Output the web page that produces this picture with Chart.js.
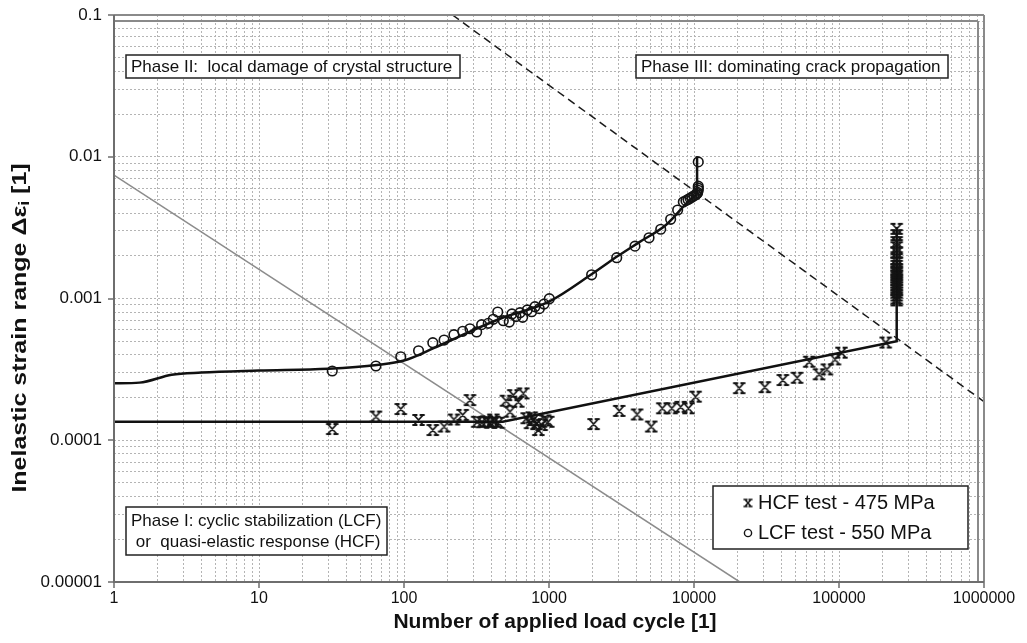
<!DOCTYPE html>
<html>
<head>
<meta charset="utf-8">
<script src="https://cdn.jsdelivr.net/npm/chart.js@4.4.1/dist/chart.umd.min.js"></script>
<style>
  html, body { margin: 0; padding: 0; background: #fff; }
  #wrap { position: relative; width: 1027px; height: 643px; }
</style>
</head>
<body>
<div id="wrap"><canvas id="c" width="1027" height="643"></canvas></div>
<script>
// ---- tick labels ----
const xTickLabels = ['1', '10', '100', '1000', '10000', '100000', '1000000'];
const yTickLabels = ['0.00001', '0.0001', '0.001', '0.01', '0.1'];

// ---- HCF test, 475 MPa (cycles / inelastic strain range) ----
const hcfCycles = [32, 64, 95, 126, 158, 189, 221, 254, 285, 320, 345, 370, 395, 413, 420, 448,
  505, 538, 567, 614, 665, 702, 740, 760, 780, 820, 844, 890, 940, 989,
  2030, 3050, 4050, 5070, 6040, 7030, 8090, 9160, 10260,
  20500, 30800, 41000, 51400, 62300, 72800, 82500, 93800, 104000, 210000,
  250000, 250000, 250000, 250000, 250000, 250000, 250000, 250000, 250000, 250000, 250000,
  250000, 250000, 250000, 250000, 250000, 250000, 250000, 250000, 250000, 250000, 250000];
const hcfStrain = [0.00012, 0.000147, 0.000166, 0.000139, 0.000118, 0.000125, 0.00014, 0.000151, 0.000192,
  0.000135, 0.000134, 0.000136, 0.000133, 0.00014, 0.000135, 0.000133,
  0.00019, 0.000159, 0.000208, 0.000187, 0.000214, 0.000143, 0.000132, 0.000145, 0.000139, 0.00013,
  0.000118, 0.000128, 0.000138, 0.000135,
  0.00013, 0.000161, 0.000152, 0.000125, 0.000168, 0.000168, 0.000172, 0.000168, 0.000203,
  0.000233, 0.000237, 0.000266, 0.000276, 0.000358, 0.000292, 0.000316, 0.000372, 0.000415, 0.000489,
  0.0031, 0.0028, 0.0025, 0.0023, 0.0021, 0.0019, 0.0018, 0.0017, 0.0016, 0.00155, 0.0015,
  0.00145, 0.0014, 0.00135, 0.0013, 0.00125, 0.0012, 0.00115, 0.0011, 0.00105, 0.001, 0.00097];

// ---- LCF test, 550 MPa ----
const lcfCycles = [32, 64, 95, 126, 158, 189, 221, 254, 285, 317, 343, 381, 413, 443, 484, 532, 555,
  592, 631, 658, 708, 759, 800, 857, 924, 1005, 1968, 2931, 3917, 4896, 5895, 6902, 7713,
  8440, 8800, 9100, 9400, 9700, 10000, 10300, 10500, 10600, 10700, 10700, 10700, 10700];
const lcfStrain = [0.000308, 0.000334, 0.000388, 0.000428, 0.000488, 0.000509, 0.000556, 0.000587,
  0.000612, 0.000581, 0.000654, 0.000668, 0.000713, 0.000803, 0.000697, 0.000682, 0.000778,
  0.000745, 0.000794, 0.000736, 0.00083, 0.000807, 0.000875, 0.000848, 0.000914, 0.000997,
  0.00147, 0.00194, 0.00234, 0.00268, 0.00308, 0.00362, 0.00421,
  0.0048, 0.0049, 0.005, 0.0051, 0.0052, 0.0053, 0.0054, 0.0055, 0.0056, 0.0058, 0.006, 0.0062, 0.0092];

// ---- model curves ----
const lcfFitCycles = [1, 1.5, 2.5, 4, 10, 30, 65, 100, 160, 270, 460, 1000, 2000, 3000, 4200, 6400, 8900, 10500];
const lcfFitStrain = [0.000252, 0.000255, 0.00029, 0.0003, 0.00031, 0.00032, 0.00034, 0.000365, 0.000446,
  0.00057, 0.00072, 0.00095, 0.0015, 0.002, 0.0025, 0.0033, 0.0047, 0.0055];
const lcfFailCycles = [10500, 10500];
const lcfFailStrain = [0.0055, 0.0101];
const hcfFitCycles = [1, 480, 250000, 250000];
const hcfFitStrain = [0.000135, 0.000135, 0.0005, 0.0032];

// ---- phase boundaries ----
const phase1Cycles = [1, 20700];
const phase1Strain = [0.00743, 0.00001];
const phase3Cycles = [216, 1000000];
const phase3Strain = [0.1, 0.000187];

const toXY = (xs, ys) => xs.map((x, i) => ({ x: x, y: ys[i] }));

// grid positions: 1..9 per decade
function decadeGrid(minExp, maxExp) {
  const out = [];
  for (let e = minExp; e < maxExp; e++) {
    for (let m = 1; m <= 9; m++) out.push(Number((m * Math.pow(10, e)).toPrecision(3)));
  }
  out.push(Math.pow(10, maxExp));
  return out;
}

// cross marker with short serifs at the arm ends
function makeCrossMarker(w, h, lw) {
  const pad = 3;
  const c = document.createElement('canvas');
  c.width = w + 2 * pad; c.height = h + 2 * pad;
  const g = c.getContext('2d');
  g.strokeStyle = '#141414';
  g.lineWidth = lw;
  g.lineCap = 'round';
  const x0 = pad, y0 = pad, x1 = w + pad, y1 = h + pad;
  const s = Math.max(2, w * 0.3);
  g.beginPath();
  g.moveTo(x0, y0); g.lineTo(x1, y1);
  g.moveTo(x1, y0); g.lineTo(x0, y1);
  g.moveTo(x0 - 1, y0); g.lineTo(x0 + s, y0);
  g.moveTo(x1 - s, y0); g.lineTo(x1 + 1, y0);
  g.moveTo(x0 - 1, y1); g.lineTo(x0 + s, y1);
  g.moveTo(x1 - s, y1); g.lineTo(x1 + 1, y1);
  g.stroke();
  return c;
}
const crossMarker = makeCrossMarker(9, 10, 1.8);
const crossMarkerSmall = makeCrossMarker(6, 7, 1.6);

const FONT = "'Liberation Sans', Arial, Helvetica, sans-serif";

function text(ctx, str, x, y, font, align, baseline) {
  ctx.font = font;
  ctx.textAlign = align || 'left';
  ctx.textBaseline = baseline || 'middle';
  ctx.fillStyle = '#111';
  ctx.fillText(str, x, y);
}

function box(ctx, x, y, w, h) {
  ctx.fillStyle = '#fff';
  ctx.fillRect(x, y, w, h);
  ctx.strokeStyle = '#222';
  ctx.lineWidth = 1.5;
  ctx.strokeRect(x, y, w, h);
}

const decorations = {
  id: 'decorations',
  afterDatasetsDraw(chart) {
    const ctx = chart.ctx;
    const a = chart.chartArea;
    const xs = chart.scales.x, ys = chart.scales.y;
    ctx.save();

    // frame: double lines at top and right
    ctx.strokeStyle = '#8a8a8a';
    ctx.lineWidth = 2;
    ctx.beginPath();
    ctx.moveTo(a.left, a.top); ctx.lineTo(a.right, a.top);
    ctx.moveTo(a.left, a.top + 6); ctx.lineTo(a.right - 6, a.top + 6);
    ctx.moveTo(a.right, a.top); ctx.lineTo(a.right, a.bottom);
    ctx.moveTo(a.right - 6, a.top + 6); ctx.lineTo(a.right - 6, a.bottom);
    ctx.stroke();

    // axis lines with outward ticks
    ctx.strokeStyle = '#6e6e6e';
    ctx.lineWidth = 2;
    ctx.beginPath();
    ctx.moveTo(a.left, a.top); ctx.lineTo(a.left, a.bottom); ctx.lineTo(a.right, a.bottom);
    ctx.stroke();
    ctx.lineWidth = 1.5;
    ctx.beginPath();
    yTickLabels.forEach(l => {
      const py = Math.round(ys.getPixelForValue(Number(l)));
      ctx.moveTo(a.left - 6, py); ctx.lineTo(a.left, py);
    });
    xTickLabels.forEach(l => {
      const px = Math.round(xs.getPixelForValue(Number(l)));
      ctx.moveTo(px, a.bottom); ctx.lineTo(px, a.bottom + 6);
    });
    ctx.stroke();

    // tick labels
    yTickLabels.forEach(l => {
      text(ctx, l, a.left - 12, ys.getPixelForValue(Number(l)), '17px ' + FONT, 'right', 'middle');
    });
    xTickLabels.forEach(l => {
      text(ctx, l, xs.getPixelForValue(Number(l)), a.bottom + 17, '16px ' + FONT, 'center', 'middle');
    });

    // axis titles
    text(ctx, 'Number of applied load cycle [1]', (a.left + a.right) / 2 + 6, 622, 'bold 21px ' + FONT, 'center', 'middle');
    ctx.save();
    ctx.translate(20, 328);
    ctx.rotate(-Math.PI / 2);
    ctx.scale(1.25, 1);
    const mainF = 'bold 20px ' + FONT, subF = 'bold 14px ' + FONT;
    const p1 = 'Inelastic strain range \u0394\u03b5', p2 = 'i', p3 = ' [1]';
    ctx.font = mainF; const w1 = ctx.measureText(p1).width, w3 = ctx.measureText(p3).width;
    ctx.font = subF; const w2 = ctx.measureText(p2).width;
    let sx = -(w1 + w2 + w3) / 2;
    text(ctx, p1, sx, 0, mainF, 'left', 'middle'); sx += w1;
    text(ctx, p2, sx, 5, subF, 'left', 'middle'); sx += w2;
    text(ctx, p3, sx, 0, mainF, 'left', 'middle');
    ctx.restore();

    // phase annotations
    const aF = '17px ' + FONT;
    box(ctx, 126, 55, 334, 23);
    text(ctx, 'Phase II:  local damage of crystal structure', 131, 67, aF);
    box(ctx, 636, 55, 312, 23);
    text(ctx, 'Phase III: dominating crack propagation', 641, 67, aF);
    box(ctx, 126, 507, 261, 48);
    text(ctx, 'Phase I: cyclic stabilization (LCF)', 131, 521, aF);
    text(ctx, ' or  quasi-elastic response (HCF)', 131, 542, aF);

    // legend
    box(ctx, 713, 486, 255, 63);
    const lF = '20px ' + FONT;
    ctx.drawImage(crossMarkerSmall, 748 - crossMarkerSmall.width / 2, 503 - crossMarkerSmall.height / 2);
    text(ctx, chart.data.datasets[0].label, 758, 503, lF);
    ctx.beginPath();
    ctx.strokeStyle = '#141414'; ctx.lineWidth = 1.4;
    ctx.arc(748, 533, 3.6, 0, Math.PI * 2);
    ctx.stroke();
    text(ctx, chart.data.datasets[1].label, 758, 533, lF);

    ctx.restore();
  }
};

const gridX = decadeGrid(0, 6);
const gridY = decadeGrid(-5, -1);

new Chart(document.getElementById('c'), {
  type: 'scatter',
  data: {
    datasets: [
      { label: 'HCF test - 475 MPa', data: toXY(hcfCycles, hcfStrain), pointStyle: crossMarker,
        pointRadius: 5, showLine: false, order: 1 },
      { label: 'LCF test - 550 MPa', data: toXY(lcfCycles, lcfStrain), pointStyle: 'circle',
        pointRadius: 4.8, borderColor: '#141414', borderWidth: 1.6, backgroundColor: 'rgba(0,0,0,0)',
        showLine: false, order: 0 },
      { label: 'LCF model', data: toXY(lcfFitCycles, lcfFitStrain), showLine: true, pointRadius: 0,
        borderColor: '#111', borderWidth: 2.5, cubicInterpolationMode: 'monotone', order: 3 },
      { label: 'LCF failure', data: toXY(lcfFailCycles, lcfFailStrain), showLine: true, pointRadius: 0,
        borderColor: '#111', borderWidth: 2.5, order: 3 },
      { label: 'HCF model', data: toXY(hcfFitCycles, hcfFitStrain), showLine: true, pointRadius: 0,
        borderColor: '#111', borderWidth: 2.5, order: 4 },
      { label: 'Phase I boundary', data: toXY(phase1Cycles, phase1Strain), showLine: true, pointRadius: 0,
        borderColor: '#8c8c8c', borderWidth: 1.5, order: 6 },
      { label: 'Phase III boundary', data: toXY(phase3Cycles, phase3Strain), showLine: true, pointRadius: 0,
        borderColor: '#1a1a1a', borderWidth: 1.5, borderDash: [8, 5], order: 5 }
    ]
  },
  options: {
    responsive: false,
    animation: false,
    devicePixelRatio: 1,
    layout: { padding: { left: 114, right: 43, top: 15, bottom: 61 } },
    plugins: { legend: { display: false }, tooltip: { enabled: false } },
    scales: {
      x: {
        type: 'logarithmic', min: 1, max: 1000000,
        afterBuildTicks: s => { s.ticks = gridX.map(v => ({ value: v })); },
        ticks: { display: false },
        grid: { color: '#b4b4b4', lineWidth: 1, drawTicks: false },
        border: { display: false, dash: [2, 2] }
      },
      y: {
        type: 'logarithmic', min: 0.00001, max: 0.1,
        afterBuildTicks: s => { s.ticks = gridY.map(v => ({ value: v })); },
        ticks: { display: false },
        grid: { color: '#b4b4b4', lineWidth: 1, drawTicks: false },
        border: { display: false, dash: [2, 2] }
      }
    }
  },
  plugins: [decorations]
});
</script>
</body>
</html>
